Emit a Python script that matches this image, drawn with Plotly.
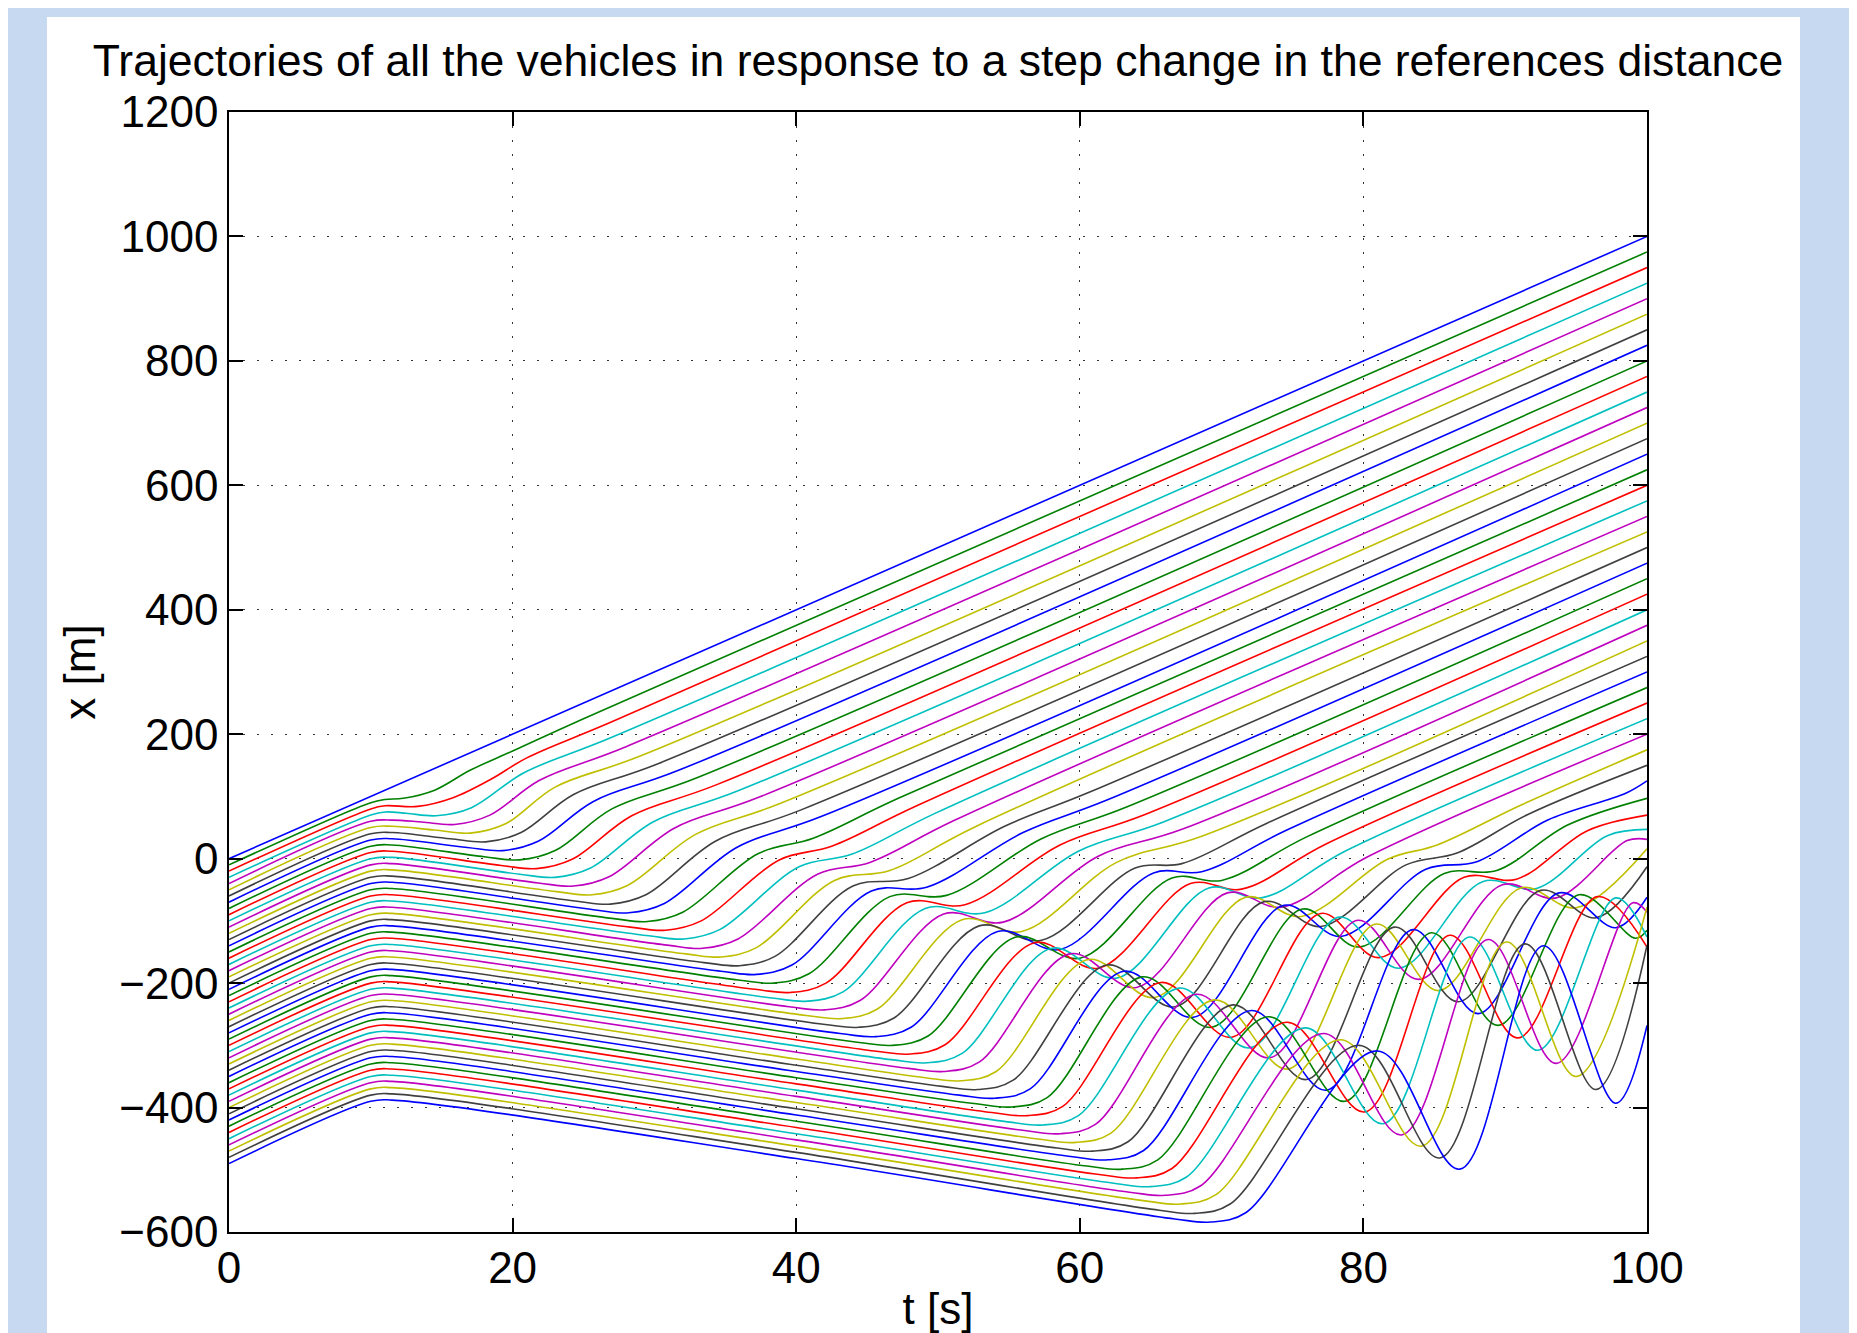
import plotly.graph_objects as go

# ---------------- data ----------------
line_colors = ["#0000ff", "#008000", "#ff0000", "#00bfbf", "#bf00bf", "#bfbf00", "#404040"]
x_tick_values = [0, 20, 40, 60, 80, 100]
y_tick_values = [-600, -400, -200, 0, 200, 400, 600, 800, 1000, 1200]
title_text = "Trajectories of all the vehicles in response to a step change in the references distance"
x_axis_label = "t [s]"
y_axis_label = "x [m]"

# key points (time [s]) of every vehicle trajectory, vehicle 0 = leader
vehicle_times = [
    [0, 100],
    [0, 10, 11, 12.3, 14.5, 17, 20, 25, 100],
    [0, 10, 11, 13.3, 15.8, 18.5, 21, 27, 100],
    [0, 10, 11, 12.5, 14.6, 17.1, 20.8, 27, 100],
    [0, 10, 11.5, 13.6, 15.9, 18.4, 21.9, 28, 100],
    [0, 10, 11.5, 14.5, 17, 19.5, 23, 29, 100],
    [0, 10, 11.5, 15.6, 18.1, 20.6, 24.3, 30.3, 100],
    [0, 10, 11.5, 16.8, 19.3, 21.8, 25.7, 31.7, 100],
    [0, 10, 11.5, 18, 20.5, 23, 27, 33, 100],
    [0, 10, 11.5, 19.2, 21.7, 24.2, 28.4, 34.4, 100],
    [0, 10, 11.5, 20.5, 23, 25.5, 29.9, 35.9, 100],
    [0, 10, 11.5, 21.8, 24.3, 26.8, 31.4, 37.4, 100],
    [0, 10, 11.5, 23.1, 25.6, 28.1, 32.9, 38.9, 100],
    [0, 10, 11.5, 24.4, 26.9, 29.4, 34.3, 40.3, 100],
    [0, 10, 11.5, 25.7, 28.2, 30.7, 35.8, 41.8, 100],
    [0, 10, 11.5, 27, 29.5, 32, 37.3, 41.2, 47.2, 100],
    [0, 10, 11.5, 28.3, 30.8, 33.3, 38.8, 42.5, 48.5, 100],
    [0, 10, 11.5, 29.6, 32.1, 34.6, 40.2, 43.9, 49.9, 100],
    [0, 10, 11.5, 30.9, 33.4, 35.9, 41.5, 45.2, 51.2, 100],
    [0, 10, 11.5, 32.2, 34.7, 37.2, 42.7, 46.6, 52.6, 100],
    [0, 10, 11.5, 33.5, 36, 38.5, 44, 47.9, 54.7, 60.7, 100],
    [0, 10, 11.5, 34.7, 37.2, 39.7, 45.3, 49.2, 56, 62, 100],
    [0, 10, 11.5, 35.9, 38.4, 40.9, 46.6, 50.6, 57.3, 63.3, 100],
    [0, 10, 11.5, 37.1, 39.6, 42.1, 47.8, 51.9, 58.6, 64.6, 100],
    [0, 10, 11.5, 38.3, 40.8, 43.3, 49.1, 53.3, 59.9, 65.9, 100],
    [0, 10, 11.5, 39.5, 42, 44.5, 50.4, 54.6, 61.3, 67.3, 100],
    [0, 10, 11.5, 40.7, 43.2, 45.7, 51.7, 55.9, 62.6, 68.6, 100],
    [0, 10, 11.5, 41.9, 44.4, 46.9, 52.9, 57.3, 63.9, 67.2, 73.2, 100],
    [0, 10, 11.5, 43.1, 45.6, 48.1, 54.2, 58.6, 65.2, 68.6, 74.6, 100],
    [0, 10, 11.5, 44.3, 46.8, 49.3, 55.5, 60, 66.5, 70, 76, 100],
    [0, 10, 11.5, 45.5, 48, 50.5, 56.8, 61.3, 67.8, 71.4, 77.4, 100],
    [0, 10, 11.5, 46.7, 49.2, 51.7, 58, 62.6, 69.1, 72.8, 78.8, 100],
    [0, 10, 11.5, 47.9, 50.4, 52.9, 59.3, 64, 70.4, 74.2, 80.2, 100],
    [0, 10, 11.5, 40, 49.1, 51.6, 54.1, 60.6, 65.3, 71.7, 75.6, 81.7, 85.2, 91.2, 100],
    [0, 10, 11.5, 40, 50.3, 52.8, 55.3, 61.9, 66.7, 73, 77, 83, 86.6, 91.6, 100],
    [0, 10, 11.5, 40, 51.5, 54, 56.5, 63.1, 68, 74.4, 78.4, 84.4, 88, 93, 98.5, 100],
    [0, 10, 11.5, 40, 52.7, 55.2, 57.7, 64.4, 69.3, 75.7, 79.7, 85.7, 89.4, 94.4, 100],
    [0, 10, 11.5, 40, 53.8, 56.3, 58.8, 65.7, 70.7, 77, 81.1, 87.1, 90.8, 95.8, 100],
    [0, 10, 11.5, 40, 54.9, 57.4, 59.9, 67, 72, 78.3, 82.5, 88.4, 92.2, 97.2, 100],
    [0, 10, 11.5, 40, 56.1, 58.6, 61.1, 68.2, 73.4, 79.6, 83.9, 89.8, 93.6, 98.6, 100],
    [0, 10, 11.5, 40, 57.2, 59.7, 62.2, 69.5, 74.7, 80.9, 85.3, 91.1, 95, 100],
    [0, 10, 11.5, 40, 58.4, 60.9, 63.4, 70.8, 76, 82.2, 86.7, 92.5, 96.4, 100],
    [0, 10, 11.5, 40, 59.5, 62, 64.5, 72.1, 77.4, 83.5, 88.1, 93.8, 97.8, 100],
    [0, 10, 11.5, 40, 60.5, 63, 65.5, 73.3, 78.7, 84.8, 89.5, 95.2, 99.2, 100],
    [0, 10, 11.5, 40, 61.5, 64, 66.5, 74.6, 80.1, 86.1, 90.9, 96.5, 100],
    [0, 10, 11.5, 40, 62.5, 65, 67.5, 75.9, 81.4, 87.5, 92.3, 97.8, 100],
    [0, 10, 11.5, 40, 63.5, 66, 68.5, 77.2, 82.7, 88.8, 93.6, 99, 100],
    [0, 10, 11.5, 40, 64.6, 67.1, 69.6, 78.4, 84.1, 90.1, 95, 100],
    [0, 10, 11.5, 40, 65.6, 68.1, 70.6, 79.7, 85.4, 91.4, 96.4, 100],
    [0, 10, 11.5, 40, 66.7, 69.2, 71.7, 81, 86.8, 92.7, 97.8, 100],
]

# positions x [m] at the key points above
vehicle_positions = [
    [0, 1000],
    [-10, 90, 95, 97, 110, 142, 173, 225, 975],
    [-20, 80, 85, 84, 98, 128, 162, 220, 950],
    [-30, 70, 75, 73, 69, 82, 138, 195, 925],
    [-40, 60, 62, 59, 55, 70, 126, 180, 900],
    [-50, 50, 52, 46, 41, 56, 115, 165, 875],
    [-60, 40, 42, 32, 27, 42, 103, 153, 850],
    [-70, 30, 32, 18, 13, 28, 92, 142, 825],
    [-80, 20, 22, 3, -2, 13, 80, 130, 800],
    [-90, 10, 12, -11, -16, -1, 69, 119, 775],
    [-100, 0, 2, -25, -30, -15, 59, 109, 750],
    [-110, -10, -8, -39, -44, -29, 49, 99, 725],
    [-120, -20, -18, -53, -58, -43, 39, 89, 700],
    [-130, -30, -28, -68, -73, -58, 28, 78, 675],
    [-140, -40, -38, -82, -87, -72, 18, 68, 650],
    [-150, -50, -48, -96, -101, -86, 8, 33, 97, 625],
    [-160, -60, -58, -110, -115, -100, -2, 20, 85, 600],
    [-170, -70, -68, -124, -129, -114, -13, 7, 74, 575],
    [-180, -80, -78, -139, -144, -129, -25, -6, 62, 550],
    [-190, -90, -88, -153, -158, -143, -35, -19, 51, 525],
    [-200, -100, -98, -167, -172, -157, -44, -32, 52, 107, 500],
    [-210, -110, -108, -181, -186, -171, -52, -46, 42, 95, 475],
    [-220, -120, -118, -195, -200, -185, -61, -59, 32, 83, 450],
    [-230, -130, -128, -210, -215, -200, -71, -74, 22, 71, 425],
    [-240, -140, -138, -224, -229, -214, -80, -87, 12, 59, 400],
    [-250, -150, -148, -238, -243, -228, -89, -102, 4, 48, 375],
    [-260, -160, -158, -252, -257, -242, -98, -117, -6, 36, 350],
    [-270, -170, -168, -266, -271, -256, -108, -131, -15, -8, 57, 325],
    [-280, -180, -178, -281, -286, -271, -117, -146, -23, -21, 46, 300],
    [-290, -190, -188, -295, -300, -285, -126, -160, -31, -35, 35, 275],
    [-300, -200, -198, -309, -314, -299, -135, -176, -40, -49, 24, 250],
    [-310, -210, -208, -323, -328, -313, -144, -192, -47, -63, 13, 225],
    [-320, -220, -218, -337, -342, -327, -153, -207, -55, -78, 2, 200],
    [-330, -230, -228, -322, -352, -357, -342, -162, -223, -62, -93, -1, 22, 87, 175],
    [-340, -240, -238, -332, -366, -371, -356, -171, -238, -69, -109, -10, 9, 71, 150],
    [-350, -250, -248, -342, -380, -385, -370, -181, -255, -75, -125, -17, -5, 62, 105, 125],
    [-360, -260, -258, -352, -394, -399, -384, -190, -271, -81, -142, -24, -19, 54, 97],
    [-370, -270, -268, -362, -408, -413, -398, -199, -287, -88, -159, -30, -33, 45, 70],
    [-380, -280, -278, -372, -423, -428, -413, -208, -304, -94, -176, -37, -48, 37, 47],
    [-390, -290, -288, -382, -437, -442, -427, -218, -320, -99, -194, -42, -63, 29, 31],
    [-400, -300, -298, -392, -451, -456, -441, -227, -338, -105, -212, -47, -79, 16],
    [-410, -310, -308, -402, -465, -470, -455, -235, -355, -110, -230, -51, -95, -13],
    [-420, -320, -318, -412, -479, -484, -469, -244, -372, -114, -249, -55, -111, -62],
    [-430, -330, -328, -422, -494, -499, -484, -254, -390, -119, -268, -58, -128, -115],
    [-440, -340, -338, -432, -508, -513, -498, -263, -407, -123, -288, -61, -142],
    [-450, -350, -348, -442, -522, -527, -512, -272, -426, -126, -308, -63, -126],
    [-460, -360, -358, -452, -536, -541, -526, -281, -444, -130, -329, -71, -86],
    [-470, -370, -368, -462, -550, -555, -540, -291, -462, -134, -350, -78],
    [-480, -380, -378, -472, -565, -570, -555, -300, -481, -137, -371, -139],
    [-490, -390, -388, -482, -579, -584, -569, -309, -499, -140, -393, -268],
]

# ---------------- figure ----------------
FONT = "Liberation Sans, Arial, Helvetica, sans-serif"
W, H = 1849, 1325
ML, MR, MT, MB = 221, 210, 104, 101
PW, PH = W - ML - MR, H - MT - MB

fig = go.Figure()
for k, (ts, xs) in enumerate(zip(vehicle_times, vehicle_positions)):
    fig.add_trace(go.Scatter(
        x=ts, y=xs, mode="lines",
        line=dict(color=line_colors[k % len(line_colors)], width=1.6,
                  shape="spline", smoothing=1.0),
        hoverinfo="skip", showlegend=False,
    ))

axis_common = dict(
    ticks="inside", ticklen=14, tickwidth=1.5, tickcolor="black",
    showline=True, linecolor="black", linewidth=1.5, mirror="ticks",
    showgrid=True, gridcolor="#333333", gridwidth=1, griddash="2px,12px",
    zeroline=False, tickfont=dict(family=FONT, size=44, color="black"),
    automargin=False,
)

fig.update_layout(
    width=W, height=H,
    margin=dict(l=ML, r=MR, t=MT, b=MB, pad=0),
    paper_bgcolor="#c6d9f0",
    plot_bgcolor="white",
    showlegend=False,
    font=dict(family=FONT, size=44, color="black"),
    title=dict(text=title_text, x=0.5, xref="paper", xanchor="center",
               y=1 - 52 / H, yref="container", yanchor="middle",
               font=dict(family=FONT, size=44.5, color="black")),
    xaxis=dict(range=[0, 100], tickvals=x_tick_values, ticklabelstandoff=-4,
               title=dict(text=x_axis_label, standoff=17,
                          font=dict(family=FONT, size=44, color="black")),
               **axis_common),
    yaxis=dict(range=[-600, 1200], tickvals=y_tick_values, ticklabelstandoff=0,
               title=dict(text=y_axis_label, standoff=10,
                          font=dict(family=FONT, size=44, color="black")),
               **axis_common),
    shapes=[dict(type="rect", xref="paper", yref="paper",
                 x0=(39 - ML) / PW, x1=(1792 - ML) / PW,
                 y0=-0.3, y1=(PH + MT - 9) / PH,
                 fillcolor="white", line=dict(width=0), layer="below")],
)

fig.write_html("out.html")
